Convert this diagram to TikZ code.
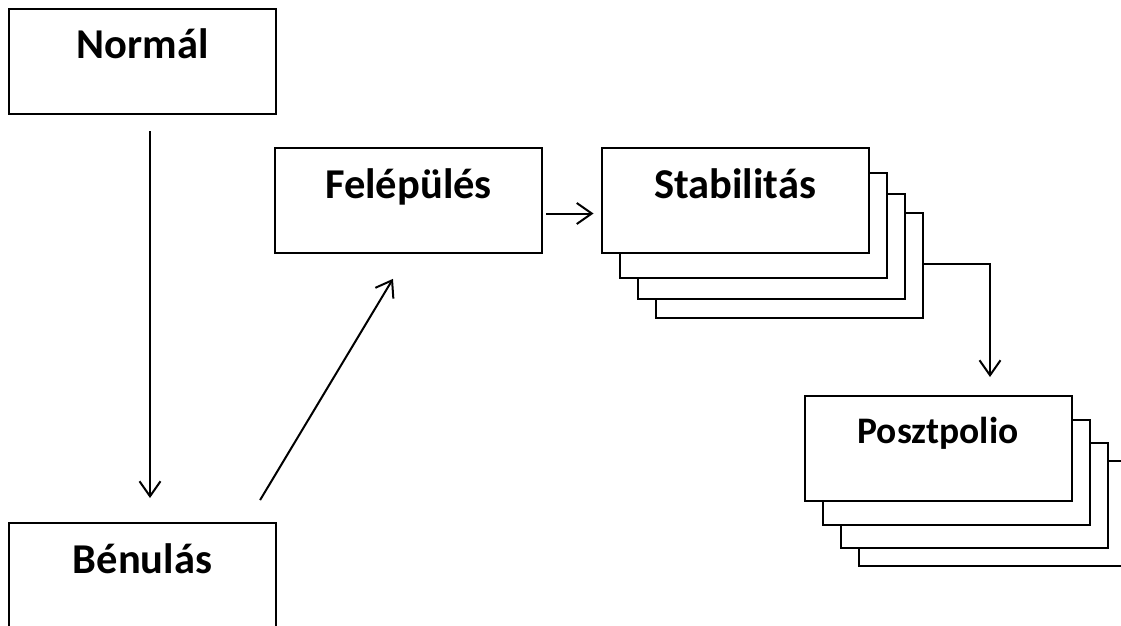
\documentclass[tikz,border=0pt]{standalone}
\usepackage{fontspec}
\setmainfont{Carlito}
\usetikzlibrary{arrows.meta}
\begin{document}
\begin{tikzpicture}[x=1pt,y=-1pt,
  box/.style={draw, line width=2pt, fill=white, inner sep=0pt,
    minimum width=267pt, minimum height=105pt, text height=50pt, text depth=55pt,
    anchor=north, font=\fontsize{42.5}{50}\selectfont\bfseries},
  layer/.style={draw, line width=2pt, fill=white, inner sep=0pt,
    minimum width=267pt, minimum height=105pt, anchor=north},
  arr/.style={line width=2pt, -{Straight Barb[length=15pt,width=21pt]}}]
\useasboundingbox (0,0) rectangle (1121,626);
% single boxes
\node[box] (normal) at (142.5,8) {Normál};
\node[box] (benulas) at (142.5,522) {Bénulás};
\node[box] (felep) at (408.5,147) {Felépülés};
% Stabilitás stack
\node[layer] (stabB3) at (789,212) {};
\node[layer] (stabB2) at (771,193) {};
\node[layer] (stabB1) at (753,171.5) {};
\node[box] (stab) at (735,147) {Stabilitás};
% Posztpolio stack
\node[layer] (posB3) at (992,460) {};
\node[layer] (posB2) at (974,442) {};
\node[layer] (posB1) at (956,419) {};
\node[box, text height=47pt, text depth=58pt, font=\fontsize{37.5}{45}\selectfont\bfseries] (poszt) at (938,395) {Posztpolio};
% connectors
\draw[arr, shorten <=16pt, shorten >=24pt] ([xshift=7.5pt]normal.south) -- ([xshift=7.5pt]benulas.north);
\draw[arr, shorten <=25.6pt, shorten >=29pt] ([xshift=104.4pt]benulas.north) -- ([xshift=-0.6pt]felep.south);
\draw[arr, shorten <=3pt, shorten >=7pt] ([yshift=-13pt]felep.east) -- ([yshift=-13pt]stab.west);
\coordinate (ptip) at (990,377);
\draw[arr] ([yshift=1.5pt]stabB3.east) -| (ptip);
\end{tikzpicture}
\end{document}
